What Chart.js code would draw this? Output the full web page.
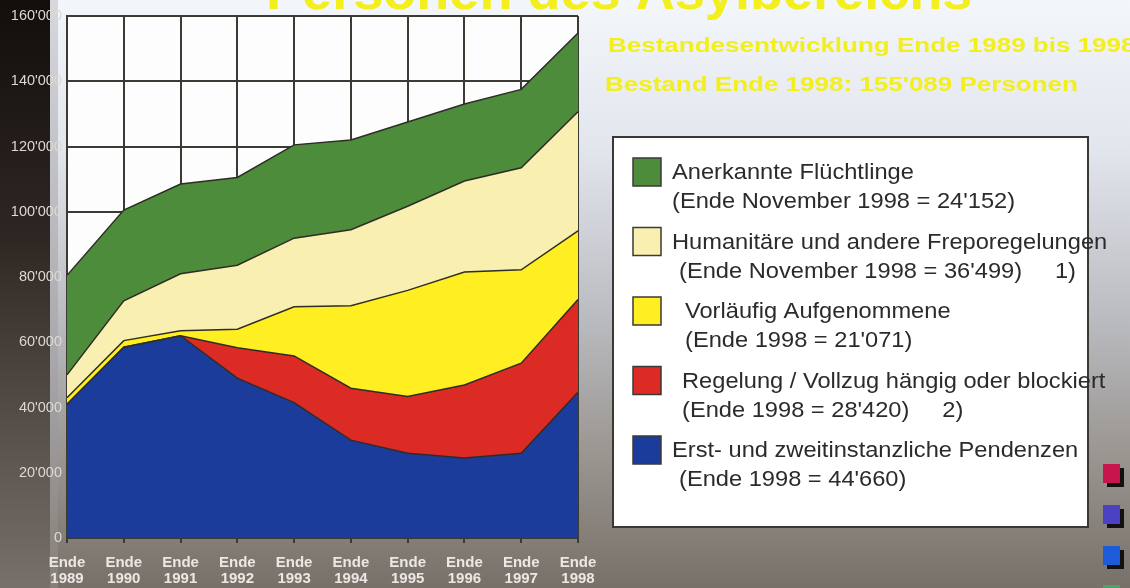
<!DOCTYPE html>
<html lang="de">
<head>
<meta charset="utf-8">
<title>Personen des Asylbereichs</title>
<script src="https://cdn.jsdelivr.net/npm/chart.js@4"></script>
<style>
    html, body { margin: 0; padding: 0; background: #7b756f; }
    #asylChart { display: block; }
</style>
</head>
<body>
<canvas id="asylChart" width="1130" height="588"></canvas>
<script>
// Bestand per Ende Jahr, gestapelt von unten nach oben
const years = ['1989', '1990', '1991', '1992', '1993', '1994', '1995', '1996', '1997', '1998'];
const pendenzen = [41000, 58500, 62000, 49000, 41500, 30000, 26000, 24500, 26000, 44660];
const vollzug = [0, 0, 0, 9300, 14300, 15900, 17400, 22400, 27600, 28420];
const vorlaeufig = [2000, 2000, 1500, 5700, 15100, 25300, 32500, 34600, 28600, 21071];
const humanitaer = [7000, 12200, 17500, 19600, 21000, 23300, 25800, 27900, 31300, 36499];
const fluechtlinge = [30500, 27800, 27500, 26900, 28600, 27500, 25800, 23600, 24000, 24152];

const yMax = 160000;
const yStep = 20000;

// Legende: Reihenfolge von oben nach unten
const legendNames = [
    'Anerkannte Flüchtlinge',
    'Humanitäre und andere Freporegelungen',
    'Vorläufig Aufgenommene',
    'Regelung / Vollzug hängig oder blockiert',
    'Erst- und zweitinstanzliche Pendenzen'
];
const legendNotes = [
    '(Ende November 1998 = 24\'152)',
    '(Ende November 1998 = 36\'499)     1)',
    '(Ende 1998 = 21\'071)',
    '(Ende 1998 = 28\'420)     2)',
    '(Ende 1998 = 44\'660)'
];

const title = 'Personen des Asylbereichs';
const subtitle1 = 'Bestandesentwicklung Ende 1989 bis 1998';
const subtitle2 = 'Bestand Ende 1998: 155\'089 Personen';

const colors = {
    green: '#4d8c3b',
    light: '#f9efb0',
    yellow: '#ffee22',
    red: '#dc2a24',
    blue: '#1b3c9a',
    line: '#2e2d25',
    grid: '#3b3a33'
};

const FONT = '"Liberation Sans", Arial, sans-serif';

function fmt(v) {
    return String(v).replace(/\B(?=(\d{3})+(?!\d))/g, '\'');
}

function drawText(ctx, text, x, y, font, color, sx) {
    ctx.save();
    ctx.font = font;
    ctx.fillStyle = color;
    ctx.textBaseline = 'alphabetic';
    ctx.textAlign = 'left';
    ctx.translate(x, y);
    ctx.scale(sx || 1, 1);
    ctx.fillText(text, 0, 0);
    ctx.restore();
}

function area(label, data, color, fill) {
    return {
        label: label,
        data: data,
        backgroundColor: color,
        borderColor: colors.line,
        borderWidth: 1.5,
        pointRadius: 0,
        tension: 0,
        fill: fill
    };
}

const backdrop = {
    id: 'backdrop',
    beforeDraw(chart) {
        const { ctx, width, height, chartArea } = chart;
        ctx.save();

        const bg = ctx.createLinearGradient(0, 0, 0, height);
        bg.addColorStop(0, '#f3f6fa');
        bg.addColorStop(0.25, '#e2e6ed');
        bg.addColorStop(0.55, '#b9babf');
        bg.addColorStop(0.8, '#96918b');
        bg.addColorStop(1, '#777069');
        ctx.fillStyle = bg;
        ctx.fillRect(0, 0, width, height);

        // dunkler Streifen links hinter der Y-Achse
        const band = ctx.createLinearGradient(0, 0, 0, height);
        band.addColorStop(0, '#120e0b');
        band.addColorStop(0.4, '#2e2622');
        band.addColorStop(0.75, '#5a524c');
        band.addColorStop(1, '#78716b');
        ctx.fillStyle = band;
        ctx.fillRect(0, 0, 50, height);

        const edge = ctx.createLinearGradient(0, 0, 0, height);
        edge.addColorStop(0, '#d6d8de');
        edge.addColorStop(0.6, '#a9a8ac');
        edge.addColorStop(1, '#857f79');
        ctx.fillStyle = edge;
        ctx.fillRect(50, 0, 8, height);

        ctx.fillStyle = '#fdfdfd';
        ctx.fillRect(chartArea.left, chartArea.top, chartArea.right - chartArea.left, chartArea.bottom - chartArea.top);
        ctx.restore();
    },
    afterDraw(chart) {
        const ctx = chart.ctx;
        const yellow = '#f2ef1c';

        drawText(ctx, title, 266, 9, 'bold 52px ' + FONT, yellow, 1.04);
        drawText(ctx, subtitle1, 608, 52, 'bold 20px ' + FONT, yellow, 1.3);
        drawText(ctx, subtitle2, 605, 91, 'bold 20px ' + FONT, yellow, 1.3);

        // Legendenkasten
        const box = { x: 613, y: 137, w: 475, h: 390 };
        ctx.save();
        ctx.fillStyle = '#ffffff';
        ctx.fillRect(box.x, box.y, box.w, box.h);
        ctx.strokeStyle = '#3a3833';
        ctx.lineWidth = 2;
        ctx.strokeRect(box.x, box.y, box.w, box.h);
        ctx.restore();

        const swatches = [colors.green, colors.light, colors.yellow, colors.red, colors.blue];
        const indent1 = [672, 672, 685, 682, 672];
        const indent2 = [672, 679, 685, 682, 679];
        legendNames.forEach((name, i) => {
            const base = 179 + i * 69.5;
            ctx.save();
            ctx.fillStyle = swatches[i];
            ctx.fillRect(633, base - 21, 28, 28);
            ctx.strokeStyle = '#3c3a34';
            ctx.lineWidth = 1.5;
            ctx.strokeRect(633, base - 21, 28, 28);
            ctx.restore();
            drawText(ctx, name, indent1[i], base, '21.5px ' + FONT, '#2b2b2b', 1.1);
            drawText(ctx, legendNotes[i], indent2[i], base + 29, '21.5px ' + FONT, '#2b2b2b', 1.1);
        });

        // kleine Navigationsquadrate am rechten Rand
        const marks = [[464, '#c8164c'], [505, '#4a42c2'], [546, '#1c5cd8'], [585, '#48a468']];
        ctx.save();
        marks.forEach(([y, c]) => {
            ctx.fillStyle = '#111111';
            ctx.fillRect(1107, y + 4, 17, 19);
            ctx.fillStyle = c;
            ctx.fillRect(1103, y, 17, 19);
        });
        ctx.restore();
    }
};

const ctx = document.getElementById('asylChart');

new Chart(ctx, {
    type: 'line',
    data: {
        labels: years.map(y => ['Ende', y]),
        datasets: [
            area('Erst- und zweitinstanzliche Pendenzen', pendenzen, colors.blue, 'origin'),
            area('Regelung / Vollzug hängig oder blockiert', vollzug, colors.red, '-1'),
            area('Vorläufig Aufgenommene', vorlaeufig, colors.yellow, '-1'),
            area('Humanitäre und andere Freporegelungen', humanitaer, colors.light, '-1'),
            area('Anerkannte Flüchtlinge', fluechtlinge, colors.green, '-1')
        ]
    },
    options: {
        responsive: false,
        animation: false,
        devicePixelRatio: 1,
        layout: { padding: { left: 0, top: 16, right: 552, bottom: 0 } },
        plugins: {
            legend: { display: false },
            title: { display: false },
            tooltip: { enabled: false }
        },
        scales: {
            x: {
                offset: false,
                grid: { color: colors.grid, lineWidth: 2, drawTicks: true, tickLength: 5, tickColor: colors.grid },
                border: { color: colors.grid, width: 2 },
                ticks: {
                    color: '#ebe8e4',
                    font: { family: FONT, size: 15, weight: 'bold', lineHeight: 1.12 },
                    padding: 11,
                    maxRotation: 0,
                    autoSkip: false
                },
                afterFit(scale) { scale.height = 50; }
            },
            y: {
                stacked: true,
                min: 0,
                max: yMax,
                grid: { color: colors.grid, lineWidth: 2, drawTicks: false },
                border: { color: colors.grid, width: 2 },
                ticks: {
                    stepSize: yStep,
                    color: '#dcd8d3',
                    font: { family: FONT, size: 14.5 },
                    padding: 5,
                    callback: v => fmt(v)
                },
                afterFit(scale) { scale.width = 67; }
            }
        }
    },
    plugins: [backdrop]
});
</script>
</body>
</html>
